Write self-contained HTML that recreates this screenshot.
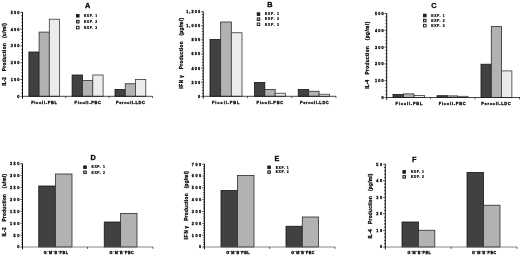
<!DOCTYPE html>
<html lang="en"><head><meta charset="utf-8"><title>Cytokine production figure</title>
<style>
html,body{margin:0;padding:0;background:#fff;}
body{width:520px;height:256px;overflow:hidden;}
svg{display:block;filter:blur(0.3px);}
svg text{font-family:'Liberation Sans', 'DejaVu Sans', sans-serif;font-weight:bold;fill:#0a0a0a;stroke:#0a0a0a;stroke-width:0.3px;}
</style></head><body>
<svg width="520" height="256" viewBox="0 0 520 256">
<rect width="520" height="256" fill="#fff"/>
<rect x="28.90" y="52.00" width="10.20" height="44.30" fill="#414141" stroke="#151515" stroke-width="0.8"/>
<rect x="39.10" y="32.10" width="10.20" height="64.20" fill="#b2b2b2" stroke="#2c2c2c" stroke-width="0.8"/>
<rect x="49.30" y="19.20" width="10.20" height="77.10" fill="#ececec" stroke="#3a3a3a" stroke-width="0.8"/>
<rect x="72.10" y="75.00" width="10.33" height="21.30" fill="#414141" stroke="#151515" stroke-width="0.8"/>
<rect x="82.43" y="80.50" width="10.33" height="15.80" fill="#b2b2b2" stroke="#2c2c2c" stroke-width="0.8"/>
<rect x="92.77" y="75.00" width="10.33" height="21.30" fill="#ececec" stroke="#3a3a3a" stroke-width="0.8"/>
<rect x="115.00" y="89.50" width="10.27" height="6.80" fill="#414141" stroke="#151515" stroke-width="0.8"/>
<rect x="125.27" y="83.75" width="10.27" height="12.55" fill="#b2b2b2" stroke="#2c2c2c" stroke-width="0.8"/>
<rect x="135.53" y="79.50" width="10.27" height="16.80" fill="#ececec" stroke="#3a3a3a" stroke-width="0.8"/>
<path d="M22.50 96.30H152.50" fill="none" stroke="#1a1a1a" stroke-width="0.8"/>
<path d="M22.50 12.00V98.60" fill="none" stroke="#0c0c0c" stroke-width="1"/>
<text x="20.40" y="97.70" font-size="3.8" text-anchor="end" letter-spacing="1.1" >0</text>
<text x="20.40" y="80.90" font-size="3.8" text-anchor="end" letter-spacing="1.1" >100</text>
<text x="20.40" y="64.10" font-size="3.8" text-anchor="end" letter-spacing="1.1" >200</text>
<text x="20.40" y="47.30" font-size="3.8" text-anchor="end" letter-spacing="1.1" >300</text>
<text x="20.40" y="30.50" font-size="3.8" text-anchor="end" letter-spacing="1.1" >400</text>
<text x="20.40" y="13.70" font-size="3.8" text-anchor="end" letter-spacing="1.1" >500</text>
<path d="M20.30 96.30H22.50M21.20 92.94H22.50M21.20 89.58H22.50M21.20 86.22H22.50M21.20 82.86H22.50M20.30 79.50H22.50M21.20 76.14H22.50M21.20 72.78H22.50M21.20 69.42H22.50M21.20 66.06H22.50M20.30 62.70H22.50M21.20 59.34H22.50M21.20 55.98H22.50M21.20 52.62H22.50M21.20 49.26H22.50M20.30 45.90H22.50M21.20 42.54H22.50M21.20 39.18H22.50M21.20 35.82H22.50M21.20 32.46H22.50M20.30 29.10H22.50M21.20 25.74H22.50M21.20 22.38H22.50M21.20 19.02H22.50M21.20 15.66H22.50M20.30 12.30H22.50M65.75 96.30v1.8M109.00 96.30v1.8M152.50 96.30v1.8" fill="none" stroke="#111" stroke-width="0.7"/>
<text x="5.90" y="85.70" font-size="4.7" text-anchor="start" letter-spacing="0" textLength="8.60" lengthAdjust="spacing" transform="rotate(-90 5.90 85.70)" >IL-2</text>
<text x="5.90" y="71.30" font-size="4.7" text-anchor="start" letter-spacing="0" textLength="28.10" lengthAdjust="spacing" transform="rotate(-90 5.90 71.30)" >Production</text>
<text x="5.90" y="38.10" font-size="4.7" text-anchor="start" letter-spacing="0" textLength="14.90" lengthAdjust="spacing" transform="rotate(-90 5.90 38.10)" >(u/ml)</text>
<text x="87.70" y="8.20" font-size="7.3" text-anchor="middle" letter-spacing="0" >A</text>
<rect x="76.50" y="14.45" width="2.6" height="2.6" fill="#1a1a1a" stroke="#1a1a1a" stroke-width="0.9"/>
<text x="84.00" y="17.00" font-size="3.4" text-anchor="start" letter-spacing="0" textLength="13.20" lengthAdjust="spacing" style="stroke-width:0.22px">EXP. 1</text>
<rect x="76.50" y="20.35" width="2.6" height="2.6" fill="#b4b4b4" stroke="#1a1a1a" stroke-width="0.9"/>
<text x="84.00" y="22.90" font-size="3.4" text-anchor="start" letter-spacing="0" textLength="13.20" lengthAdjust="spacing" style="stroke-width:0.22px">EXP. 2</text>
<rect x="76.50" y="26.30" width="2.6" height="2.6" fill="#f0f0f0" stroke="#1a1a1a" stroke-width="0.9"/>
<text x="84.00" y="28.85" font-size="3.4" text-anchor="start" letter-spacing="0" textLength="13.20" lengthAdjust="spacing" style="stroke-width:0.22px">EXP. 3</text>
<text x="44.10" y="103.90" font-size="4.0" text-anchor="middle" letter-spacing="0" textLength="25.80" lengthAdjust="spacing" >Ficoll-PBL</text>
<text x="87.75" y="103.90" font-size="4.0" text-anchor="middle" letter-spacing="0" textLength="26.50" lengthAdjust="spacing" >Ficoll-PBC</text>
<text x="130.50" y="103.90" font-size="4.0" text-anchor="middle" letter-spacing="0" textLength="29.00" lengthAdjust="spacing" >Percoll-LDC</text>
<rect x="210.00" y="39.50" width="10.67" height="56.80" fill="#414141" stroke="#151515" stroke-width="0.8"/>
<rect x="220.67" y="22.00" width="10.67" height="74.30" fill="#b2b2b2" stroke="#2c2c2c" stroke-width="0.8"/>
<rect x="231.33" y="32.75" width="10.67" height="63.55" fill="#ececec" stroke="#3a3a3a" stroke-width="0.8"/>
<rect x="254.50" y="82.50" width="10.33" height="13.80" fill="#414141" stroke="#151515" stroke-width="0.8"/>
<rect x="264.83" y="89.50" width="10.33" height="6.80" fill="#b2b2b2" stroke="#2c2c2c" stroke-width="0.8"/>
<rect x="275.17" y="93.25" width="10.33" height="3.05" fill="#ececec" stroke="#3a3a3a" stroke-width="0.8"/>
<rect x="298.25" y="89.50" width="10.42" height="6.80" fill="#414141" stroke="#151515" stroke-width="0.8"/>
<rect x="308.67" y="91.25" width="10.42" height="5.05" fill="#b2b2b2" stroke="#2c2c2c" stroke-width="0.8"/>
<rect x="319.08" y="94.25" width="10.42" height="2.05" fill="#ececec" stroke="#3a3a3a" stroke-width="0.8"/>
<path d="M203.25 96.30H336.00" fill="none" stroke="#1a1a1a" stroke-width="0.8"/>
<path d="M203.25 11.40V98.60" fill="none" stroke="#0c0c0c" stroke-width="1"/>
<text x="201.15" y="97.70" font-size="3.8" text-anchor="end" letter-spacing="1.1" >0</text>
<text x="201.15" y="83.60" font-size="3.8" text-anchor="end" letter-spacing="1.1" >200</text>
<text x="201.15" y="69.50" font-size="3.8" text-anchor="end" letter-spacing="1.1" >400</text>
<text x="201.15" y="55.40" font-size="3.8" text-anchor="end" letter-spacing="1.1" >600</text>
<text x="201.15" y="41.30" font-size="3.8" text-anchor="end" letter-spacing="1.1" >800</text>
<text x="201.15" y="27.20" font-size="3.8" text-anchor="end" letter-spacing="1.1" >1,000</text>
<text x="201.15" y="13.10" font-size="3.8" text-anchor="end" letter-spacing="1.1" >1,200</text>
<path d="M201.05 96.30H203.25M201.95 93.48H203.25M201.95 90.66H203.25M201.95 87.84H203.25M201.95 85.02H203.25M201.05 82.20H203.25M201.95 79.38H203.25M201.95 76.56H203.25M201.95 73.74H203.25M201.95 70.92H203.25M201.05 68.10H203.25M201.95 65.28H203.25M201.95 62.46H203.25M201.95 59.64H203.25M201.95 56.82H203.25M201.05 54.00H203.25M201.95 51.18H203.25M201.95 48.36H203.25M201.95 45.54H203.25M201.95 42.72H203.25M201.05 39.90H203.25M201.95 37.08H203.25M201.95 34.26H203.25M201.95 31.44H203.25M201.95 28.62H203.25M201.05 25.80H203.25M201.95 22.98H203.25M201.95 20.16H203.25M201.95 17.34H203.25M201.95 14.52H203.25M201.05 11.70H203.25M247.50 96.30v1.8M291.75 96.30v1.8M336.00 96.30v1.8" fill="none" stroke="#111" stroke-width="0.7"/>
<text x="183.30" y="88.80" font-size="4.7" text-anchor="start" letter-spacing="0" textLength="8.90" lengthAdjust="spacing" transform="rotate(-90 183.30 88.80)" >IFN</text>
<text x="183.30" y="77.70" font-size="4.7" text-anchor="start" letter-spacing="0" textLength="3.80" lengthAdjust="spacing" transform="rotate(-90 183.30 77.70)" >γ</text>
<text x="183.30" y="69.20" font-size="4.7" text-anchor="start" letter-spacing="0" textLength="27.90" lengthAdjust="spacing" transform="rotate(-90 183.30 69.20)" >Production</text>
<text x="183.30" y="35.60" font-size="4.7" text-anchor="start" letter-spacing="0" textLength="17.60" lengthAdjust="spacing" transform="rotate(-90 183.30 35.60)" >(pg/ml)</text>
<text x="270.00" y="7.10" font-size="7.3" text-anchor="middle" letter-spacing="0" >B</text>
<rect x="257.20" y="12.80" width="2.6" height="2.6" fill="#1a1a1a" stroke="#1a1a1a" stroke-width="0.9"/>
<text x="265.00" y="15.35" font-size="3.4" text-anchor="start" letter-spacing="0" textLength="14.00" lengthAdjust="spacing" style="stroke-width:0.22px">EXP. 1</text>
<rect x="257.20" y="17.90" width="2.6" height="2.6" fill="#b4b4b4" stroke="#1a1a1a" stroke-width="0.9"/>
<text x="265.00" y="20.45" font-size="3.4" text-anchor="start" letter-spacing="0" textLength="14.00" lengthAdjust="spacing" style="stroke-width:0.22px">EXP. 2</text>
<rect x="257.20" y="23.00" width="2.6" height="2.6" fill="#f0f0f0" stroke="#1a1a1a" stroke-width="0.9"/>
<text x="265.00" y="25.55" font-size="3.4" text-anchor="start" letter-spacing="0" textLength="14.00" lengthAdjust="spacing" style="stroke-width:0.22px">EXP. 3</text>
<text x="225.75" y="103.50" font-size="4.0" text-anchor="middle" letter-spacing="0" textLength="27.50" lengthAdjust="spacing" >Ficoll-PBL</text>
<text x="269.90" y="103.50" font-size="4.0" text-anchor="middle" letter-spacing="0" textLength="26.60" lengthAdjust="spacing" >Ficoll-PBC</text>
<text x="314.38" y="103.50" font-size="4.0" text-anchor="middle" letter-spacing="0" textLength="28.75" lengthAdjust="spacing" >Percoll-LDC</text>
<rect x="393.00" y="94.40" width="10.50" height="3.10" fill="#414141" stroke="#151515" stroke-width="0.8"/>
<rect x="403.50" y="93.90" width="10.50" height="3.60" fill="#b2b2b2" stroke="#2c2c2c" stroke-width="0.8"/>
<rect x="414.00" y="95.40" width="10.50" height="2.10" fill="#ececec" stroke="#3a3a3a" stroke-width="0.8"/>
<rect x="437.00" y="95.70" width="10.33" height="1.80" fill="#414141" stroke="#151515" stroke-width="0.8"/>
<rect x="447.33" y="95.90" width="10.33" height="1.60" fill="#b2b2b2" stroke="#2c2c2c" stroke-width="0.8"/>
<rect x="457.67" y="96.30" width="10.33" height="1.20" fill="#ececec" stroke="#3a3a3a" stroke-width="0.8"/>
<rect x="481.00" y="64.20" width="10.30" height="33.30" fill="#414141" stroke="#151515" stroke-width="0.8"/>
<rect x="491.30" y="26.40" width="10.30" height="71.10" fill="#b2b2b2" stroke="#2c2c2c" stroke-width="0.8"/>
<rect x="501.60" y="70.90" width="10.30" height="26.60" fill="#ececec" stroke="#3a3a3a" stroke-width="0.8"/>
<path d="M386.70 97.50H520.00" fill="none" stroke="#1a1a1a" stroke-width="0.8"/>
<path d="M386.70 13.20V99.80" fill="none" stroke="#0c0c0c" stroke-width="1"/>
<text x="384.60" y="98.90" font-size="3.8" text-anchor="end" letter-spacing="1.1" >0</text>
<text x="384.60" y="82.10" font-size="3.8" text-anchor="end" letter-spacing="1.1" >100</text>
<text x="384.60" y="65.30" font-size="3.8" text-anchor="end" letter-spacing="1.1" >200</text>
<text x="384.60" y="48.50" font-size="3.8" text-anchor="end" letter-spacing="1.1" >300</text>
<text x="384.60" y="31.70" font-size="3.8" text-anchor="end" letter-spacing="1.1" >400</text>
<text x="384.60" y="14.90" font-size="3.8" text-anchor="end" letter-spacing="1.1" >500</text>
<path d="M384.50 97.50H386.70M385.40 94.14H386.70M385.40 90.78H386.70M385.40 87.42H386.70M385.40 84.06H386.70M384.50 80.70H386.70M385.40 77.34H386.70M385.40 73.98H386.70M385.40 70.62H386.70M385.40 67.26H386.70M384.50 63.90H386.70M385.40 60.54H386.70M385.40 57.18H386.70M385.40 53.82H386.70M385.40 50.46H386.70M384.50 47.10H386.70M385.40 43.74H386.70M385.40 40.38H386.70M385.40 37.02H386.70M385.40 33.66H386.70M384.50 30.30H386.70M385.40 26.94H386.70M385.40 23.58H386.70M385.40 20.22H386.70M385.40 16.86H386.70M384.50 13.50H386.70M430.50 97.50v1.8M475.00 97.50v1.8M519.50 97.50v1.8" fill="none" stroke="#111" stroke-width="0.7"/>
<text x="369.30" y="88.80" font-size="4.7" text-anchor="start" letter-spacing="0" textLength="8.90" lengthAdjust="spacing" transform="rotate(-90 369.30 88.80)" >IL-4</text>
<text x="369.30" y="74.40" font-size="4.7" text-anchor="start" letter-spacing="0" textLength="28.30" lengthAdjust="spacing" transform="rotate(-90 369.30 74.40)" >Production</text>
<text x="369.30" y="40.25" font-size="4.7" text-anchor="start" letter-spacing="0" textLength="18.45" lengthAdjust="spacing" transform="rotate(-90 369.30 40.25)" >(pg/ml)</text>
<text x="434.00" y="8.40" font-size="7.3" text-anchor="middle" letter-spacing="0" >C</text>
<rect x="423.50" y="14.20" width="2.6" height="2.6" fill="#1a1a1a" stroke="#1a1a1a" stroke-width="0.9"/>
<text x="431.20" y="16.75" font-size="3.4" text-anchor="start" letter-spacing="0" textLength="13.50" lengthAdjust="spacing" style="stroke-width:0.22px">EXP. 1</text>
<rect x="423.50" y="19.20" width="2.6" height="2.6" fill="#b4b4b4" stroke="#1a1a1a" stroke-width="0.9"/>
<text x="431.20" y="21.75" font-size="3.4" text-anchor="start" letter-spacing="0" textLength="13.50" lengthAdjust="spacing" style="stroke-width:0.22px">EXP. 2</text>
<rect x="423.50" y="24.30" width="2.6" height="2.6" fill="#f0f0f0" stroke="#1a1a1a" stroke-width="0.9"/>
<text x="431.20" y="26.85" font-size="3.4" text-anchor="start" letter-spacing="0" textLength="13.50" lengthAdjust="spacing" style="stroke-width:0.22px">EXP. 3</text>
<text x="409.00" y="104.70" font-size="4.0" text-anchor="middle" letter-spacing="0" textLength="27.00" lengthAdjust="spacing" >Ficoll-PBL</text>
<text x="452.25" y="104.70" font-size="4.0" text-anchor="middle" letter-spacing="0" textLength="27.00" lengthAdjust="spacing" >Ficoll-PBC</text>
<text x="496.00" y="104.70" font-size="4.0" text-anchor="middle" letter-spacing="0" textLength="29.50" lengthAdjust="spacing" >Percoll-LDC</text>
<rect x="38.75" y="186.00" width="16.62" height="61.00" fill="#414141" stroke="#151515" stroke-width="0.8"/>
<rect x="55.38" y="174.00" width="16.62" height="73.00" fill="#b2b2b2" stroke="#2c2c2c" stroke-width="0.8"/>
<rect x="104.25" y="222.00" width="16.38" height="25.00" fill="#414141" stroke="#151515" stroke-width="0.8"/>
<rect x="120.62" y="213.50" width="16.38" height="33.50" fill="#b2b2b2" stroke="#2c2c2c" stroke-width="0.8"/>
<path d="M22.50 247.00H153.00" fill="none" stroke="#6a6a6a" stroke-width="0.8"/>
<path d="M22.50 163.50V249.30" fill="none" stroke="#0c0c0c" stroke-width="1"/>
<text x="20.80" y="248.40" font-size="3.8" text-anchor="end" letter-spacing="1.5" >0</text>
<text x="20.80" y="236.52" font-size="3.8" text-anchor="end" letter-spacing="1.5" >50</text>
<text x="20.80" y="224.63" font-size="3.8" text-anchor="end" letter-spacing="1.5" >100</text>
<text x="20.80" y="212.75" font-size="3.8" text-anchor="end" letter-spacing="1.5" >150</text>
<text x="20.80" y="200.86" font-size="3.8" text-anchor="end" letter-spacing="1.5" >200</text>
<text x="20.80" y="188.97" font-size="3.8" text-anchor="end" letter-spacing="1.5" >250</text>
<text x="20.80" y="177.09" font-size="3.8" text-anchor="end" letter-spacing="1.5" >300</text>
<text x="20.80" y="165.21" font-size="3.8" text-anchor="end" letter-spacing="1.5" >350</text>
<path d="M20.30 247.00H22.50M21.20 244.62H22.50M21.20 242.25H22.50M21.20 239.87H22.50M21.20 237.49H22.50M20.30 235.12H22.50M21.20 232.74H22.50M21.20 230.36H22.50M21.20 227.98H22.50M21.20 225.61H22.50M20.30 223.23H22.50M21.20 220.85H22.50M21.20 218.48H22.50M21.20 216.10H22.50M21.20 213.72H22.50M20.30 211.34H22.50M21.20 208.97H22.50M21.20 206.59H22.50M21.20 204.21H22.50M21.20 201.84H22.50M20.30 199.46H22.50M21.20 197.08H22.50M21.20 194.71H22.50M21.20 192.33H22.50M21.20 189.95H22.50M20.30 187.57H22.50M21.20 185.20H22.50M21.20 182.82H22.50M21.20 180.44H22.50M21.20 178.07H22.50M20.30 175.69H22.50M21.20 173.31H22.50M21.20 170.94H22.50M21.20 168.56H22.50M21.20 166.18H22.50M20.30 163.81H22.50M87.50 247.00v1.8M153.00 247.00v1.8" fill="none" stroke="#111" stroke-width="0.7"/>
<text x="5.80" y="236.50" font-size="4.7" text-anchor="start" letter-spacing="0" textLength="9.00" lengthAdjust="spacing" transform="rotate(-90 5.80 236.50)" >IL-2</text>
<text x="5.80" y="221.60" font-size="4.7" text-anchor="start" letter-spacing="0" textLength="27.60" lengthAdjust="spacing" transform="rotate(-90 5.80 221.60)" >Production</text>
<text x="5.80" y="188.20" font-size="4.7" text-anchor="start" letter-spacing="0" textLength="14.20" lengthAdjust="spacing" transform="rotate(-90 5.80 188.20)" >(u/ml)</text>
<text x="93.20" y="160.10" font-size="7.3" text-anchor="middle" letter-spacing="0" >D</text>
<rect x="83.70" y="165.90" width="2.6" height="2.6" fill="#1a1a1a" stroke="#1a1a1a" stroke-width="0.9"/>
<text x="91.50" y="168.45" font-size="3.4" text-anchor="start" letter-spacing="0" textLength="13.50" lengthAdjust="spacing" style="stroke-width:0.22px">EXP. 1</text>
<rect x="83.70" y="171.00" width="2.6" height="2.6" fill="#b4b4b4" stroke="#1a1a1a" stroke-width="0.9"/>
<text x="91.50" y="173.55" font-size="3.4" text-anchor="start" letter-spacing="0" textLength="13.50" lengthAdjust="spacing" style="stroke-width:0.22px">EXP. 2</text>
<text x="55.88" y="254.00" font-size="3.7" text-anchor="middle" letter-spacing="0" textLength="24.25" lengthAdjust="spacing" style="stroke-width:0.3px">G<tspan baseline-shift="1.3" font-size="2.6">⁻</tspan>M<tspan baseline-shift="1.3" font-size="2.6">⁻</tspan>B<tspan baseline-shift="1.3" font-size="2.6">⁻</tspan><tspan>PBL</tspan></text>
<text x="121.62" y="254.00" font-size="3.7" text-anchor="middle" letter-spacing="0" textLength="24.25" lengthAdjust="spacing" style="stroke-width:0.3px">G<tspan baseline-shift="1.3" font-size="2.6">⁻</tspan>M<tspan baseline-shift="1.3" font-size="2.6">⁻</tspan>B<tspan baseline-shift="1.3" font-size="2.6">⁻</tspan><tspan>PBC</tspan></text>
<rect x="221.00" y="190.50" width="16.50" height="56.50" fill="#414141" stroke="#151515" stroke-width="0.8"/>
<rect x="237.50" y="175.50" width="16.50" height="71.50" fill="#b2b2b2" stroke="#2c2c2c" stroke-width="0.8"/>
<rect x="286.00" y="226.25" width="16.30" height="20.75" fill="#414141" stroke="#151515" stroke-width="0.8"/>
<rect x="302.30" y="217.00" width="16.30" height="30.00" fill="#b2b2b2" stroke="#2c2c2c" stroke-width="0.8"/>
<path d="M204.40 247.00H335.00" fill="none" stroke="#6a6a6a" stroke-width="0.8"/>
<path d="M204.40 163.89V249.30" fill="none" stroke="#0c0c0c" stroke-width="1"/>
<text x="202.70" y="248.40" font-size="3.8" text-anchor="end" letter-spacing="1.5" >0</text>
<text x="202.70" y="236.57" font-size="3.8" text-anchor="end" letter-spacing="1.5" >100</text>
<text x="202.70" y="224.74" font-size="3.8" text-anchor="end" letter-spacing="1.5" >200</text>
<text x="202.70" y="212.91" font-size="3.8" text-anchor="end" letter-spacing="1.5" >300</text>
<text x="202.70" y="201.08" font-size="3.8" text-anchor="end" letter-spacing="1.5" >400</text>
<text x="202.70" y="189.25" font-size="3.8" text-anchor="end" letter-spacing="1.5" >500</text>
<text x="202.70" y="177.42" font-size="3.8" text-anchor="end" letter-spacing="1.5" >600</text>
<text x="202.70" y="165.59" font-size="3.8" text-anchor="end" letter-spacing="1.5" >700</text>
<path d="M202.20 247.00H204.40M203.10 244.63H204.40M203.10 242.27H204.40M203.10 239.90H204.40M203.10 237.54H204.40M202.20 235.17H204.40M203.10 232.80H204.40M203.10 230.44H204.40M203.10 228.07H204.40M203.10 225.71H204.40M202.20 223.34H204.40M203.10 220.97H204.40M203.10 218.61H204.40M203.10 216.24H204.40M203.10 213.88H204.40M202.20 211.51H204.40M203.10 209.14H204.40M203.10 206.78H204.40M203.10 204.41H204.40M203.10 202.05H204.40M202.20 199.68H204.40M203.10 197.31H204.40M203.10 194.95H204.40M203.10 192.58H204.40M203.10 190.22H204.40M202.20 187.85H204.40M203.10 185.48H204.40M203.10 183.12H204.40M203.10 180.75H204.40M203.10 178.39H204.40M202.20 176.02H204.40M203.10 173.65H204.40M203.10 171.29H204.40M203.10 168.92H204.40M203.10 166.56H204.40M202.20 164.19H204.40M269.50 247.00v1.8M335.00 247.00v1.8" fill="none" stroke="#111" stroke-width="0.7"/>
<text x="187.60" y="239.60" font-size="4.7" text-anchor="start" letter-spacing="0" textLength="9.40" lengthAdjust="spacing" transform="rotate(-90 187.60 239.60)" >IFN</text>
<text x="187.60" y="228.60" font-size="4.7" text-anchor="start" letter-spacing="0" textLength="3.50" lengthAdjust="spacing" transform="rotate(-90 187.60 228.60)" >γ</text>
<text x="187.60" y="220.80" font-size="4.7" text-anchor="start" letter-spacing="0" textLength="27.40" lengthAdjust="spacing" transform="rotate(-90 187.60 220.80)" >Production</text>
<text x="187.60" y="188.30" font-size="4.7" text-anchor="start" letter-spacing="0" textLength="17.20" lengthAdjust="spacing" transform="rotate(-90 187.60 188.30)" >(pg/ml)</text>
<text x="277.00" y="160.80" font-size="7.3" text-anchor="middle" letter-spacing="0" >E</text>
<rect x="267.80" y="166.00" width="2.6" height="2.6" fill="#1a1a1a" stroke="#1a1a1a" stroke-width="0.9"/>
<text x="275.70" y="168.55" font-size="3.4" text-anchor="start" letter-spacing="0" textLength="13.05" lengthAdjust="spacing" style="stroke-width:0.22px">EXP. 1</text>
<rect x="267.80" y="170.80" width="2.6" height="2.6" fill="#b4b4b4" stroke="#1a1a1a" stroke-width="0.9"/>
<text x="275.70" y="173.35" font-size="3.4" text-anchor="start" letter-spacing="0" textLength="13.05" lengthAdjust="spacing" style="stroke-width:0.22px">EXP. 2</text>
<text x="237.88" y="254.00" font-size="3.7" text-anchor="middle" letter-spacing="0" textLength="23.25" lengthAdjust="spacing" style="stroke-width:0.3px">G<tspan baseline-shift="1.3" font-size="2.6">⁻</tspan>M<tspan baseline-shift="1.3" font-size="2.6">⁻</tspan>B<tspan baseline-shift="1.3" font-size="2.6">⁻</tspan><tspan>PBL</tspan></text>
<text x="302.88" y="254.00" font-size="3.7" text-anchor="middle" letter-spacing="0" textLength="23.25" lengthAdjust="spacing" style="stroke-width:0.3px">G<tspan baseline-shift="1.3" font-size="2.6">⁻</tspan>M<tspan baseline-shift="1.3" font-size="2.6">⁻</tspan>B<tspan baseline-shift="1.3" font-size="2.6">⁻</tspan><tspan>PBC</tspan></text>
<rect x="402.00" y="222.00" width="16.40" height="25.00" fill="#414141" stroke="#151515" stroke-width="0.8"/>
<rect x="418.40" y="230.25" width="16.40" height="16.75" fill="#b2b2b2" stroke="#2c2c2c" stroke-width="0.8"/>
<rect x="467.00" y="172.50" width="16.50" height="74.50" fill="#414141" stroke="#151515" stroke-width="0.8"/>
<rect x="483.50" y="205.25" width="16.50" height="41.75" fill="#b2b2b2" stroke="#2c2c2c" stroke-width="0.8"/>
<path d="M385.30 247.00H517.00" fill="none" stroke="#6a6a6a" stroke-width="0.8"/>
<path d="M385.30 163.90V249.30" fill="none" stroke="#0c0c0c" stroke-width="1"/>
<text x="383.60" y="248.40" font-size="3.8" text-anchor="end" letter-spacing="1.5" >0</text>
<text x="383.60" y="231.84" font-size="3.8" text-anchor="end" letter-spacing="1.5" >10</text>
<text x="383.60" y="215.28" font-size="3.8" text-anchor="end" letter-spacing="1.5" >20</text>
<text x="383.60" y="198.72" font-size="3.8" text-anchor="end" letter-spacing="1.5" >30</text>
<text x="383.60" y="182.16" font-size="3.8" text-anchor="end" letter-spacing="1.5" >40</text>
<text x="383.60" y="165.60" font-size="3.8" text-anchor="end" letter-spacing="1.5" >50</text>
<path d="M383.10 247.00H385.30M384.00 243.69H385.30M384.00 240.38H385.30M384.00 237.06H385.30M384.00 233.75H385.30M383.10 230.44H385.30M384.00 227.13H385.30M384.00 223.82H385.30M384.00 220.50H385.30M384.00 217.19H385.30M383.10 213.88H385.30M384.00 210.57H385.30M384.00 207.26H385.30M384.00 203.94H385.30M384.00 200.63H385.30M383.10 197.32H385.30M384.00 194.01H385.30M384.00 190.70H385.30M384.00 187.38H385.30M384.00 184.07H385.30M383.10 180.76H385.30M384.00 177.45H385.30M384.00 174.14H385.30M384.00 170.82H385.30M384.00 167.51H385.30M383.10 164.20H385.30M451.25 247.00v1.8M517.00 247.00v1.8" fill="none" stroke="#111" stroke-width="0.7"/>
<text x="372.10" y="238.40" font-size="4.7" text-anchor="start" letter-spacing="0" textLength="9.00" lengthAdjust="spacing" transform="rotate(-90 372.10 238.40)" >IL-4</text>
<text x="372.10" y="224.00" font-size="4.7" text-anchor="start" letter-spacing="0" textLength="27.90" lengthAdjust="spacing" transform="rotate(-90 372.10 224.00)" >Production</text>
<text x="372.10" y="191.00" font-size="4.7" text-anchor="start" letter-spacing="0" textLength="17.40" lengthAdjust="spacing" transform="rotate(-90 372.10 191.00)" >(pg/ml)</text>
<text x="414.20" y="162.20" font-size="7.3" text-anchor="middle" letter-spacing="0" >F</text>
<rect x="402.90" y="170.60" width="2.6" height="2.6" fill="#1a1a1a" stroke="#1a1a1a" stroke-width="0.9"/>
<text x="411.00" y="173.15" font-size="3.4" text-anchor="start" letter-spacing="0" textLength="13.00" lengthAdjust="spacing" style="stroke-width:0.22px">EXP. 1</text>
<rect x="402.90" y="175.60" width="2.6" height="2.6" fill="#b4b4b4" stroke="#1a1a1a" stroke-width="0.9"/>
<text x="411.00" y="178.15" font-size="3.4" text-anchor="start" letter-spacing="0" textLength="13.00" lengthAdjust="spacing" style="stroke-width:0.22px">EXP. 2</text>
<text x="419.12" y="254.00" font-size="3.7" text-anchor="middle" letter-spacing="0" textLength="23.25" lengthAdjust="spacing" style="stroke-width:0.3px">G<tspan baseline-shift="1.3" font-size="2.6">⁻</tspan>M<tspan baseline-shift="1.3" font-size="2.6">⁻</tspan>B<tspan baseline-shift="1.3" font-size="2.6">⁻</tspan><tspan>PBL</tspan></text>
<text x="484.12" y="254.00" font-size="3.7" text-anchor="middle" letter-spacing="0" textLength="24.25" lengthAdjust="spacing" style="stroke-width:0.3px">G<tspan baseline-shift="1.3" font-size="2.6">⁻</tspan>M<tspan baseline-shift="1.3" font-size="2.6">⁻</tspan>B<tspan baseline-shift="1.3" font-size="2.6">⁻</tspan><tspan>PBC</tspan></text>
</svg>
</body></html>
